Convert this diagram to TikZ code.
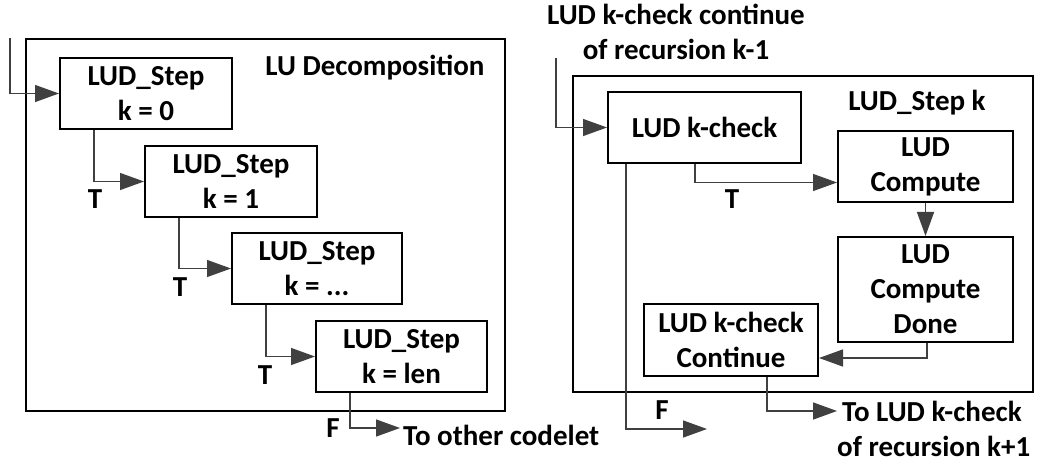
\documentclass[tikz,border=0pt]{standalone}
\usepackage{fontspec}
\setmainfont{Carlito}
\usetikzlibrary{arrows.meta}
\definecolor{conncol}{HTML}{404040}
\tikzset{
  txt/.style={font=\bfseries\fontsize{29}{35}\selectfont, inner sep=0pt, align=center},
  blk/.style={txt, draw=black, line width=2pt, rectangle},
  outer/.style={draw=black, line width=2pt, rectangle, inner sep=0pt},
  conn/.style={draw=conncol, line width=1.4pt, -{Triangle[length=24pt,width=17pt]}},
}
\begin{document}
\begin{tikzpicture}[x=1pt,y=-1pt]
\useasboundingbox (0,0) rectangle (1040,462);
% outer boxes
\node[outer, minimum width=479pt, minimum height=372pt] (lu) at (265.5,225) {};
\node[outer, minimum width=460pt, minimum height=316pt] (stepk) at (803,234) {};
% left boxes
\node[blk, minimum width=172pt, minimum height=71pt] (k0) at (146,93.5) {LUD\_Step\\k = 0};
\node[blk, minimum width=172pt, minimum height=71pt] (k1) at (231,181.5) {LUD\_Step\\k = 1};
\node[blk, minimum width=170pt, minimum height=71pt] (kd) at (317,268.5) {LUD\_Step\\k = ...};
\node[blk, minimum width=171pt, minimum height=71pt] (kl) at (401.5,356.5) {LUD\_Step\\k = len};
\node[txt] (lutitle) at (375,68) {LU Decomposition};
% right boxes
\node[blk, minimum width=193pt, minimum height=71pt] (kc) at (704.5,127.5) {LUD k-check};
\node[blk, minimum width=175pt, minimum height=71pt] (cp) at (925.5,166.5) {LUD\\Compute};
\node[blk, minimum width=175pt, minimum height=105pt] (dn) at (925.5,289.5) {LUD\\Compute\\Done};
\node[blk, minimum width=174pt, minimum height=72pt] (ct) at (731,340) {LUD k-check\\Continue};
\node[txt] (steptitle) at (917,103) {LUD\_Step k};
\node[txt] (topl) at (676,32) {LUD k-check continue\\of recursion k-1};
\node[txt, align=left, anchor=west] (outl) at (837,429) {\hspace*{5pt}To LUD k-check\\of recursion k+1};
\node[txt, anchor=west] (outc) at (403,435) {To other codelet};
% coordinates
\coordinate (in1) at (10,38);
\coordinate (in2) at (556,58);
\coordinate (o1) at (400,428);
\coordinate (o2) at (837,411);
\coordinate (o3) at (707,429);
% connectors
\draw[conn] (in1) |- (k0.west);
\draw[conn] ([xshift=35pt]k0.south west) |- (k1.west);
\draw[conn] ([xshift=35pt]k1.south west) |- (kd.west);
\draw[conn] ([xshift=35pt]kd.south west) |- (kl.west);
\draw[conn] ([xshift=35pt]kl.south west) |- (o1);
\draw[conn] (in2) |- (kc.west);
\draw[conn] ([xshift=88pt]kc.south west) |- ([yshift=-16pt]cp.west);
\draw[conn] (cp.south) -- (dn.north);
\draw[conn] ([xshift=1.5pt]dn.south) |- ([yshift=-18pt]ct.east);
\draw[conn] ([xshift=124pt]ct.south west) |- (o2);
\draw[conn] ([xshift=19pt]kc.south west) |- (o3);
% labels
\node[txt] (t1) at (95,199) {T};
\node[txt] (t2) at (180,287) {T};
\node[txt] (t3) at (265,375) {T};
\node[txt] (t4) at (732,199) {T};
\node[txt] (f1) at (333,428) {F};
\node[txt] (f2) at (662,410) {F};
\end{tikzpicture}
\end{document}
